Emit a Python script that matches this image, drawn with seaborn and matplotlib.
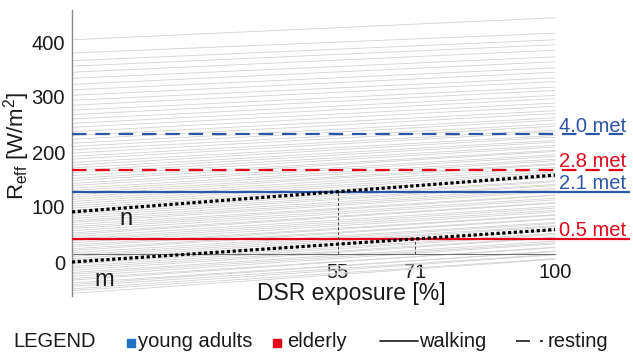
import numpy as np
import pandas as pd
import matplotlib
matplotlib.use("Agg")
import matplotlib.pyplot as plt
from matplotlib.patches import Rectangle
from matplotlib.lines import Line2D
import seaborn as sns

# ---------------- data ----------------
# background individual R_eff lines: value at DSR 0 % and at DSR 100 %
bg_start = [-57, -52, -49, -44, -41, -38, -33, -30, -26, -22,
            -19, -15, -11, -8, -4, -1, 3, 6, 10, 13,
            17, 21, 24, 28, 31, 35, 39, 42, 46, 50,
            53, 57, 61, 64, 68, 72, 75, 79, 83, 87,
            90, 94, 98, 102, 106, 110, 114, 118, 122, 126,
            130, 134, 139, 143, 148, 152, 157, 162, 166, 171,
            176, 181, 187, 192, 198, 204, 210, 216, 223, 230,
            237, 245, 252, 260, 268, 276, 285, 294, 303, 313,
            323, 334, 345, 356, 366, 380, 404]
bg_end = [5, 6, 13, 14, 20, 19, 27, 26, 33, 35,
          38, 44, 45, 50, 52, 57, 58, 64, 66, 70,
          72, 78, 79, 85, 86, 91, 94, 98, 101, 107,
          108, 113, 116, 121, 122, 128, 131, 134, 139, 141,
          146, 148, 154, 156, 161, 164, 168, 172, 177, 179,
          184, 187, 192, 195, 201, 203, 209, 212, 218, 221,
          227, 230, 237, 240, 247, 251, 258, 262, 270, 275,
          283, 289, 297, 303, 312, 318, 328, 335, 345, 353,
          364, 373, 385, 395, 404, 416, 444]
dsr_range = [0, 100]

# dotted boundary lines n and m (value at DSR 0 % and 100 %)
n_line = [91, 158]
m_line = [0, 59]

# metabolic-rate reference lines
met_labels = ["4.0 met", "2.8 met", "2.1 met", "0.5 met"]
met_values = [232, 167, 128, 42]
met_group = ["young adults", "elderly", "young adults", "elderly"]
met_activity = ["resting", "resting", "walking", "walking"]

# intersections marked on the x axis
cross_x = [55, 71]
cross_y = [128, 42]

x_ticks = [55, 71, 100]
y_ticks = [0, 100, 200, 300, 400]
baseline_y = 15

# ---------------- style ----------------
sns.set_theme(style="white")
plt.rcParams["font.family"] = ["Liberation Sans", "DejaVu Sans"]
plt.rcParams["mathtext.fontset"] = "custom"
plt.rcParams["mathtext.rm"] = "Liberation Sans"
plt.rcParams["mathtext.it"] = "Liberation Sans"

BLUE = "#2d55a5"
RED = "#e3061b"
BLUE_SQ = "#1f72c2"
TXT = "#1a1a1a"

W, H = 633, 355
fig = plt.figure(figsize=(W / 100, H / 100), dpi=100)
L_px, R_px, T_px, B_px = 72, 630, 10, 296
ax = fig.add_axes([L_px / W, 1 - B_px / H, (R_px - L_px) / W, (B_px - T_px) / H])

x0_px, x100_px = 72, 555
xmax = 100 * (R_px - L_px) / (x100_px - x0_px)
y0_px, ppu = 262, 0.55
ax.set_xlim(0, xmax)
ax.set_ylim((y0_px - B_px) / ppu, (y0_px - T_px) / ppu)

# background lines
rows = []
for i, (s, e) in enumerate(zip(bg_start, bg_end)):
    rows.append({"id": i, "dsr": dsr_range[0], "r": s})
    rows.append({"id": i, "dsr": dsr_range[1], "r": e})
bg = pd.DataFrame(rows)
sns.lineplot(data=bg, x="dsr", y="r", units="id", estimator=None,
             color="#d2d2d2", lw=0.6, legend=False, ax=ax, zorder=1)

# horizontal base line
ax.plot([0, 100], [baseline_y, baseline_y], color="#707070", lw=0.8, zorder=2)

# metabolic rate lines
for lab, v, g, a in zip(met_labels, met_values, met_group, met_activity):
    col = BLUE if g == "young adults" else RED
    ls = (0, (6.5, 4)) if a == "resting" else "-"
    ax.axhline(v, color=col, lw=1.6, linestyle=ls, zorder=3)
    ax.text(0.993, v + 5, lab, transform=ax.get_yaxis_transform(),
            ha="right", va="baseline", color=col, fontsize=14.5, zorder=5)

# vertical dashed markers
for cx, cy in zip(cross_x, cross_y):
    ax.plot([cx, cx], [baseline_y, cy], color="#444444", lw=0.7,
            linestyle=(0, (3, 2)), zorder=3)

# dotted lines n and m
sns.lineplot(x=dsr_range, y=n_line, color="black", lw=2.3,
             linestyle=(0, (1, 0.8)), ax=ax, zorder=4)
sns.lineplot(x=dsr_range, y=m_line, color="black", lw=2.3,
             linestyle=(0, (1, 0.8)), ax=ax, zorder=4)
ax.text(11.2, 78, "n", fontsize=17, ha="center", va="center", color=TXT)
ax.text(6.6, -33, "m", fontsize=17, ha="center", va="center", color=TXT)

# axes styling
for sp in ["top", "right", "bottom"]:
    ax.spines[sp].set_visible(False)
ax.spines["left"].set_color("#8a8a8a")
ax.spines["left"].set_linewidth(1.0)

ax.set_yticks(y_ticks)
ax.set_yticklabels([str(t) for t in y_ticks])
ax.set_xticks(x_ticks)
ax.set_xticklabels([str(t) for t in x_ticks])
ax.tick_params(axis="y", length=0, pad=5, labelsize=14.5, labelcolor=TXT)
ax.tick_params(axis="x", length=0, pad=-23.5, labelsize=14.5, labelcolor=TXT)
ax.grid(False)

ax.set_xlabel("DSR exposure [%]", fontsize=16.5, color=TXT)
ax.xaxis.set_label_coords(0.5, 0.048)
ax.xaxis.label.set_va("top")
ax.set_ylabel(r"R$_{\mathrm{eff}}$ [W/m$^{2}$]", fontsize=16, color=TXT)
ax.yaxis.label.set_va("center")
ax.yaxis.set_label_coords(-0.100, 0.524)

# ---------------- legend row ----------------
base = 1 - 347 / H
fs = 14.5
fig.text(13 / W, base, "LEGEND", fontsize=fs, va="baseline", color=TXT)
fig.patches.append(Rectangle((127 / W, 1 - 347 / H), 8 / W, 8 / H,
                             transform=fig.transFigure, color=BLUE_SQ))
fig.text(138 / W, base, "young adults", fontsize=fs, va="baseline", color=TXT)
fig.patches.append(Rectangle((273 / W, 1 - 347 / H), 8 / W, 8 / H,
                             transform=fig.transFigure, color=RED))
fig.text(287 / W, base, "elderly", fontsize=fs, va="baseline", color=TXT)
ly = 1 - 341 / H
fig.add_artist(Line2D([380 / W, 418 / W], [ly, ly], transform=fig.transFigure,
                      color=TXT, lw=1.2))
fig.text(419 / W, base, "walking", fontsize=fs, va="baseline", color=TXT)
fig.add_artist(Line2D([516 / W, 543 / W], [ly, ly], transform=fig.transFigure,
                      color=TXT, lw=1.2, linestyle=(0, (8.4, 6, 1.8, 10))))
fig.text(548 / W, base, "resting", fontsize=fs, va="baseline", color=TXT)

fig.savefig("out.png", dpi=100)
